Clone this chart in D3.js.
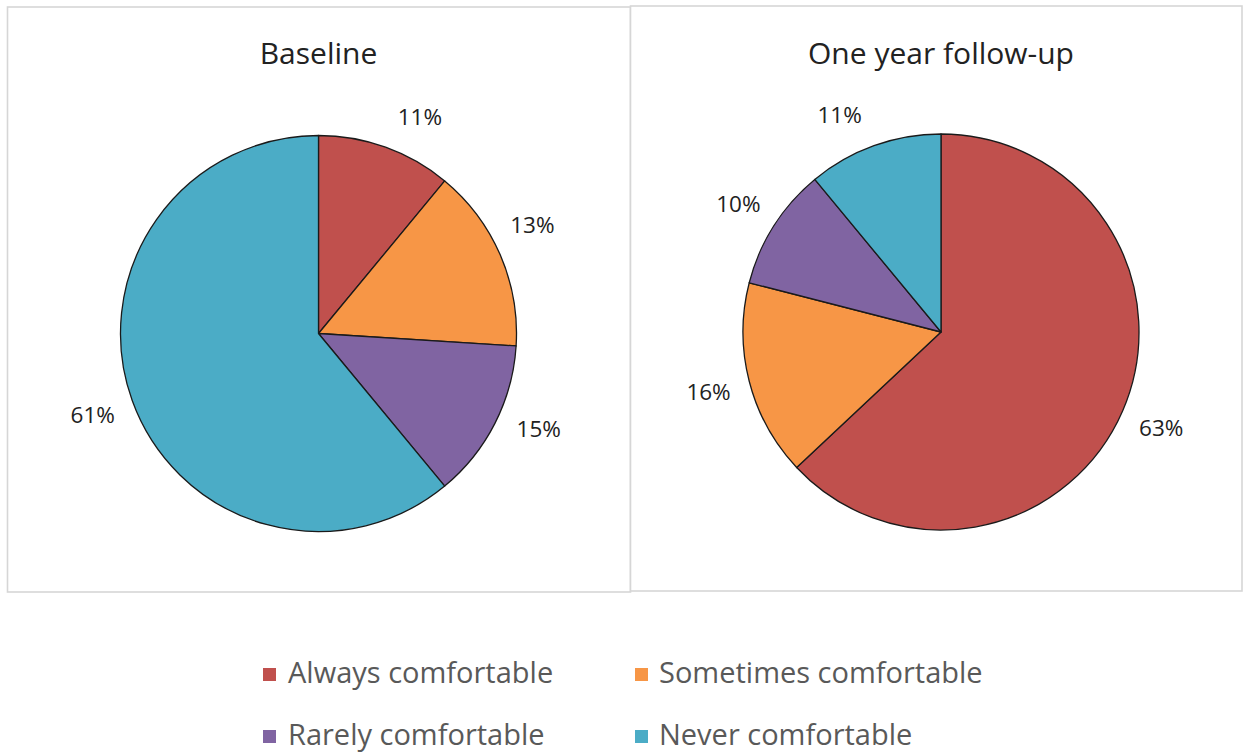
<!DOCTYPE html>
<html><head><meta charset="utf-8">
<script src="https://cdn.jsdelivr.net/npm/d3@7"></script>
<style>html,body{margin:0;padding:0;background:#fff;}svg{display:block;}</style>
</head><body>
<svg id="chart" width="1250" height="754"></svg>
<script>
// ---- data ----
const categories = ["Always comfortable", "Sometimes comfortable", "Rarely comfortable", "Never comfortable"];
const colors = ["#C0504D", "#F79646", "#8064A2", "#4BACC6"];
const panelTitles = ["Baseline", "One year follow-up"];
// slice sizes as drawn (percent)
const baselineValues = [11, 15, 13, 61];
const followupValues = [63, 16, 10, 11];
// data label texts as printed
const baselineLabels = [11, 13, 15, 61];
const followupLabels = [63, 16, 10, 11];

// ---- layout ----
const svg = d3.select("#chart");
const font = "'Open Sans', 'DejaVu Sans', sans-serif";
const panels = [
  {x0: 7.5, y0: 7, x1: 630.5, y1: 592, cx: 318.5, cy: 333.5, title: panelTitles[0], values: baselineValues, labels: baselineLabels},
  {x0: 630.5, y0: 6, x1: 1242, y1: 591, cx: 941, cy: 332, title: panelTitles[1], values: followupValues, labels: followupLabels}
];
const R = 198, labelR = 240, minTopAngle = 25 * Math.PI / 180;

const pie = d3.pie().sort(null).value(d => d);
const arc = d3.arc().innerRadius(0).outerRadius(R);

panels.forEach(p => {
  svg.append("rect")
    .attr("x", p.x0).attr("y", p.y0)
    .attr("width", p.x1 - p.x0).attr("height", p.y1 - p.y0)
    .attr("fill", "#fff").attr("stroke", "#d6d6d6").attr("stroke-width", 1.6);
});

panels.forEach(p => {
  const g = svg.append("g").attr("transform", `translate(${p.cx},${p.cy})`);
  g.selectAll("path").data(pie(p.values)).join("path")
    .attr("d", arc)
    .attr("fill", (d, i) => colors[i])
    .attr("stroke", "#1a1a1a").attr("stroke-width", 1.3)
    .attr("stroke-linejoin", "round");

  const la = pie(p.labels);
  g.selectAll("text.lbl").data(la).join("text")
    .attr("class", "lbl")
    .each(function(d) {
      let a = (d.startAngle + d.endAngle) / 2;
      // keep labels clear of the vertical axis at the top
      if (a < minTopAngle) a = minTopAngle;
      if (a > 2 * Math.PI - minTopAngle) a = 2 * Math.PI - minTopAngle;
      d3.select(this)
        .attr("x", labelR * Math.sin(a))
        .attr("y", -labelR * Math.cos(a));
    })
    .attr("text-anchor", "middle")
    .attr("dominant-baseline", "central")
    .attr("font-family", font).attr("font-size", 22.5)
    .attr("fill", "#222")
    .text(d => d.data + "%");

  svg.append("text")
    .attr("x", p.cx).attr("y", 64)
    .attr("text-anchor", "middle")
    .attr("font-family", font).attr("font-size", 30)
    .attr("fill", "#222")
    .text(p.title);
});

// ---- legend ----
const legendPos = [
  {sx: 263, tx: 288, y: 683},
  {sx: 635, tx: 659, y: 683},
  {sx: 263, tx: 288, y: 745},
  {sx: 635, tx: 659, y: 745}
];
const lg = svg.append("g");
categories.forEach((c, i) => {
  const lp = legendPos[i];
  lg.append("rect").attr("x", lp.sx).attr("y", lp.y - 15).attr("width", 13).attr("height", 13).attr("fill", colors[i]);
  lg.append("text").attr("x", lp.tx).attr("y", lp.y)
    .attr("font-family", font).attr("font-size", 29)
    .attr("fill", "#595959").text(c);
});
</script>
</body></html>
